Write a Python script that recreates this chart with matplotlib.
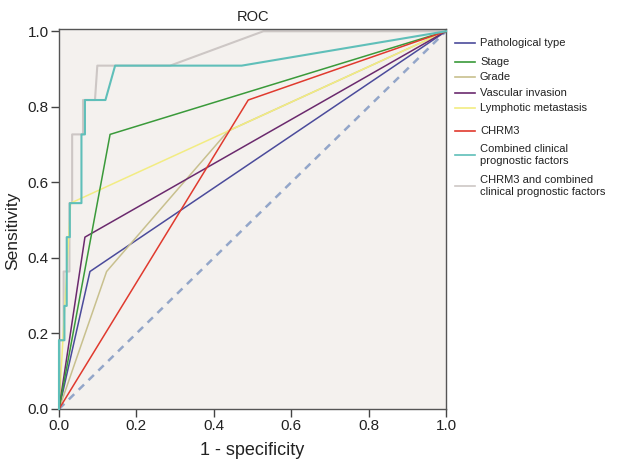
import matplotlib
matplotlib.use("Agg")
import matplotlib.pyplot as plt
from matplotlib.lines import Line2D

plt.rcParams['font.family'] = ['Liberation Sans', 'DejaVu Sans']

labels = ["Pathological type", "Stage", "Grade", "Vascular invasion",
          "Lymphotic metastasis", "CHRM3", "Combined clinical\nprognostic factors",
          "CHRM3 and combined\nclinical prognostic factors"]
colors = ["#4b4b9b", "#3a9a3a", "#c8c08e", "#6b2a6e", "#f2ec82", "#e03a2e",
          "#5fbfb9", "#cdc7c5"]

path_x = [0, 0.080, 1]
path_y = [0, 0.364, 1]
stage_x = [0, 0.132, 1]
stage_y = [0, 0.727, 1]
grade_x = [0, 0.123, 0.437, 1]
grade_y = [0, 0.364, 0.736, 1]
vasc_x = [0, 0.067, 1]
vasc_y = [0, 0.455, 1]
lymph_x = [0, 0.030, 1]
lymph_y = [0, 0.545, 1]
chrm3_x = [0, 0.489, 1]
chrm3_y = [0, 0.818, 1]
comb_x = [0, 0, 0.014, 0.014, 0.020, 0.020, 0.028, 0.028, 0.058, 0.058, 0.067, 0.067, 0.120, 0.145, 0.472, 1]
comb_y = [0, 0.182, 0.182, 0.273, 0.273, 0.455, 0.455, 0.545, 0.545, 0.727, 0.727, 0.818, 0.818, 0.909, 0.909, 1]
all_x = [0, 0, 0.012, 0.012, 0.027, 0.027, 0.034, 0.034, 0.062, 0.062, 0.093, 0.099, 0.287, 0.528, 1]
all_y = [0, 0.182, 0.182, 0.364, 0.364, 0.545, 0.545, 0.727, 0.727, 0.818, 0.818, 0.909, 0.909, 1, 1]
ref_x = [0, 1]
ref_y = [0, 1]

series = [(path_x, path_y), (stage_x, stage_y), (grade_x, grade_y), (vasc_x, vasc_y),
          (lymph_x, lymph_y), (chrm3_x, chrm3_y), (comb_x, comb_y), (all_x, all_y)]
ticks = [0.0, 0.2, 0.4, 0.6, 0.8, 1.0]

fig = plt.figure(figsize=(6.18, 4.65), dpi=100)
ax = fig.add_axes([59/618, 1 - 409/465, (446-59)/618, (409-29)/465])
ax.set_facecolor("#f4f1ee")

ax.plot(ref_x, ref_y, color="#93a6c9", lw=1.8, ls=(0, (3, 2.5)), zorder=1)
lws = [1.1, 1.1, 1.1, 1.1, 1.1, 1.1, 1.5, 1.5]
order = [7, 6, 0, 2, 4, 3, 1, 5]
for i in order:
    xs, ys = series[i]
    ax.plot(xs, ys, color=colors[i], lw=lws[i], zorder=2 + (1 if i == 6 else 0), clip_on=False)

ax.set_xlim(0, 1)
ax.set_ylim(0, 1.006)
ax.set_xticks(ticks)
ax.set_yticks(ticks)
ax.set_xticklabels([f"{t:.1f}" for t in ticks])
ax.set_yticklabels([f"{t:.1f}" for t in ticks])
ax.tick_params(direction="out", length=5.5, width=1, color="#444444",
               labelsize=11, labelcolor="#222222", pad=2)
for s in ax.spines.values():
    s.set_color("#555555")
    s.set_linewidth(1)
ax.set_xlabel("1 - specificity", fontsize=13, color="#222222", labelpad=6)
ax.set_ylabel("Sensitivity", fontsize=12.5, color="#222222")
ax.yaxis.set_label_coords(-0.1008, 0.468)
ax.set_title("ROC", fontsize=10.5, color="#222222", pad=6)

leg_y = [43.5, 61.5, 77, 92.5, 108, 131.5, 155, 186]
for lab, col, py in zip(labels, colors, leg_y):
    yf = 1 - py / 465
    fig.add_artist(Line2D([455/618, 475/618], [yf, yf], transform=fig.transFigure,
                          color=col, lw=1.2))
    fig.text(480/618, yf, lab, fontsize=8, color="#222222", va="center", ha="left",
             linespacing=1.25)

fig.savefig("out.png", dpi=100)
